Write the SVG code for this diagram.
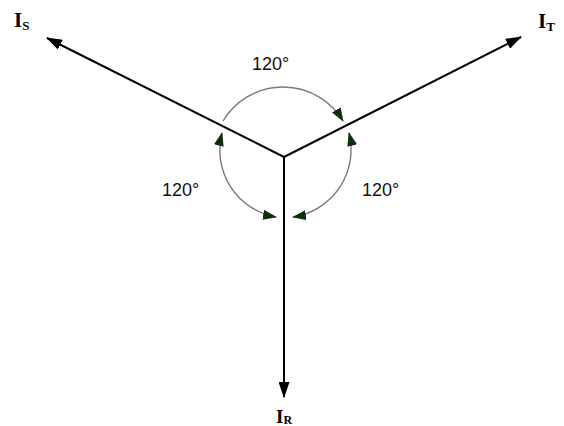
<svg xmlns="http://www.w3.org/2000/svg" width="564" height="426" viewBox="0 0 564 426">
<defs>
<marker id="ah" viewBox="0 0 16 11" refX="15" refY="5.5" markerWidth="16" markerHeight="11" markerUnits="userSpaceOnUse" orient="auto"><path d="M0,0 L16,5.5 L0,11 Z" fill="#000"/></marker>
<marker id="gh" viewBox="0 0 14 10" refX="13" refY="5" markerWidth="14" markerHeight="10" markerUnits="userSpaceOnUse" orient="auto-start-reverse"><path d="M0,0 L14,5 L0,10 Z" fill="#0b300b"/></marker>
<style>
.vec{stroke:#000;stroke-width:2;fill:none;marker-end:url(#ah)}
.arc{stroke:#7a7a7a;stroke-width:1.4;fill:none}
.lbl{font-family:"Liberation Serif",serif;font-weight:bold;fill:#000}
.ang{font-family:"Liberation Sans",Arial,sans-serif;font-size:18px;fill:#111}
</style>
</defs>
<rect width="564" height="426" fill="#fff"/>
<g id="connectors">
<line id="vS" class="vec" x1="284" y1="157" x2="47" y2="38"/>
<line id="vT" class="vec" x1="284" y1="157" x2="521" y2="37"/>
<line id="vR" class="vec" x1="284" y1="157" x2="284" y2="397"/>
<path id="arcTop" class="arc" d="M223,121 A70,70 0 0 1 343,121" marker-end="url(#gh)"/>
<path id="arcLeft" class="arc" d="M222,133 A68,68 0 0 0 276,217" marker-start="url(#gh)" marker-end="url(#gh)"/>
<path id="arcRight" class="arc" d="M349,133 A68,68 0 0 1 293,217" marker-start="url(#gh)" marker-end="url(#gh)"/>
</g>
<g id="IS"><text class="lbl" x="14" y="27" font-size="21">I<tspan font-size="13" dy="3">S</tspan></text></g>
<g id="IT"><text class="lbl" x="538" y="28" font-size="21">I<tspan font-size="13" dy="3">T</tspan></text></g>
<g id="IR"><text class="lbl" x="276" y="423" font-size="19">I<tspan font-size="12" dy="1">R</tspan></text></g>
<g id="angTop"><text class="ang" x="252" y="70">120°</text></g>
<g id="angLeft"><text class="ang" x="162" y="196">120°</text></g>
<g id="angRight"><text class="ang" x="362" y="196">120°</text></g>
</svg>
